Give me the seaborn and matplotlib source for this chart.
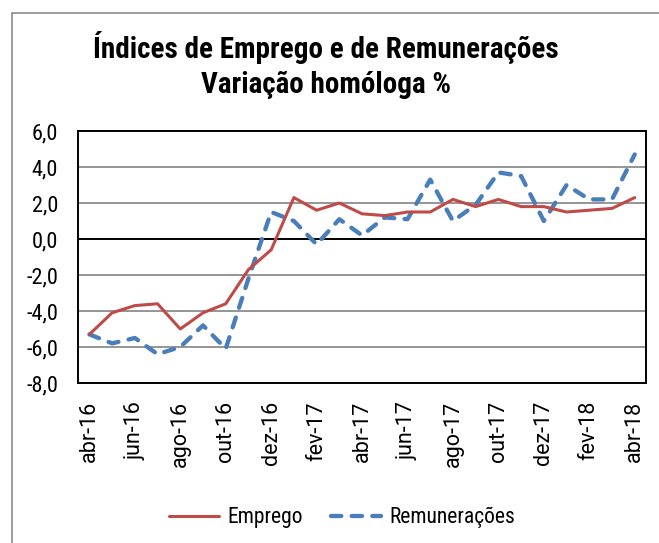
import pandas as pd
import seaborn as sns
import matplotlib.pyplot as plt
from matplotlib.lines import Line2D
from matplotlib.ticker import FuncFormatter

# Monthly labels, abr-16 .. abr-18
months = ["abr-16", "mai-16", "jun-16", "jul-16", "ago-16", "set-16", "out-16",
          "nov-16", "dez-16", "jan-17", "fev-17", "mar-17", "abr-17", "mai-17",
          "jun-17", "jul-17", "ago-17", "set-17", "out-17", "nov-17", "dez-17",
          "jan-18", "fev-18", "mar-18", "abr-18"]

# Year-on-year change (%)
emprego = [-5.3, -4.1, -3.7, -3.6, -5.0, -4.1, -3.6, -1.7, -0.6, 2.3, 1.6, 2.0,
           1.4, 1.3, 1.5, 1.5, 2.2, 1.8, 2.2, 1.8, 1.8, 1.5, 1.6, 1.7, 2.3]
remuneracoes = [-5.3, -5.8, -5.5, -6.4, -6.0, -4.8, -6.1, -2.2, 1.5, 1.0, -0.3, 1.1,
                0.2, 1.2, 1.1, 3.3, 1.0, 1.9, 3.7, 3.5, 1.0, 3.0, 2.2, 2.2, 4.7]

df = pd.DataFrame({
    "pos": list(range(len(months))) * 2,
    "valor": emprego + remuneracoes,
    "serie": ["Emprego"] * len(months) + ["Remunerações"] * len(months),
})

sns.set_style("white")
plt.rcParams["font.family"] = ["Roboto Condensed", "DejaVu Sans"]
plt.rcParams["text.color"] = "black"

fig = plt.figure(figsize=(6.59, 5.43), dpi=100)
ax = fig.add_axes([0.1184, 0.2947, 0.862, 0.464])

# gridlines first so lines sit on top
for yv in range(-6, 6, 2):
    ax.axhline(yv, color="black" if yv == 0 else "#8c8c8c",
               lw=1.4 if yv == 0 else 1.3, zorder=1)

palette = {"Emprego": "#be4b48", "Remunerações": "#4a7ebb"}
sns.lineplot(data=df[df.serie == "Emprego"], x="pos", y="valor", ax=ax,
             color=palette["Emprego"], lw=2.2, label="Emprego", zorder=3)
sns.lineplot(data=df[df.serie == "Remunerações"], x="pos", y="valor", ax=ax,
             color=palette["Remunerações"], lw=3.1, label="Remunerações",
             dashes=False, zorder=2)
ax.lines[-1].set_linestyle((0, (2.4, 2.4)))
ax.lines[-1].set_dash_capstyle("round")

ax.set_xlim(-0.5, len(months) - 0.5)
ax.set_ylim(-8, 6)
ax.set_yticks(range(-8, 7, 2))
ax.yaxis.set_major_formatter(FuncFormatter(lambda v, p: f"{v:.1f}".replace(".", ",")))
ax.set_xticks(range(0, len(months), 2))
ax.set_xticklabels(months[::2], rotation=90, family=["Roboto", "DejaVu Sans"])
ax.tick_params(axis="y", length=0, labelsize=16, colors="black", pad=14.5)
ax.tick_params(axis="x", length=0, labelsize=15.5, colors="black", pad=13)
ax.set_xlabel("")
ax.set_ylabel("")
for s in ax.spines.values():
    s.set_visible(True)
    s.set_color("black")
    s.set_linewidth(1.4)

leg = ax.legend(loc="upper center", bbox_to_anchor=(0.465, -0.415), ncol=2,
                frameon=False, fontsize=15.5, handlelength=2.3,
                handletextpad=0.4, columnspacing=1.3)
for t in leg.get_texts():
    t.set_color("black")

title_font = ["Roboto Condensed", "DejaVu Sans"]
fig.text(0.495, 0.913, "Índices de Emprego e de Remunerações",
         ha="center", va="center", fontsize=21, fontweight="bold",
         family=title_font, color="black")
fig.text(0.495, 0.843, "Variação homóloga %",
         ha="center", va="center", fontsize=21, fontweight="bold",
         family=title_font, color="black")

# outer chart frame (left and top edges visible)
fig.add_artist(Line2D([0.018, 0.018], [0, 0.976], color="#8c8c8c", lw=1.2))
fig.add_artist(Line2D([0.018, 1.0], [0.976, 0.976], color="#8c8c8c", lw=1.2))

fig.savefig("out.png", dpi=100)
